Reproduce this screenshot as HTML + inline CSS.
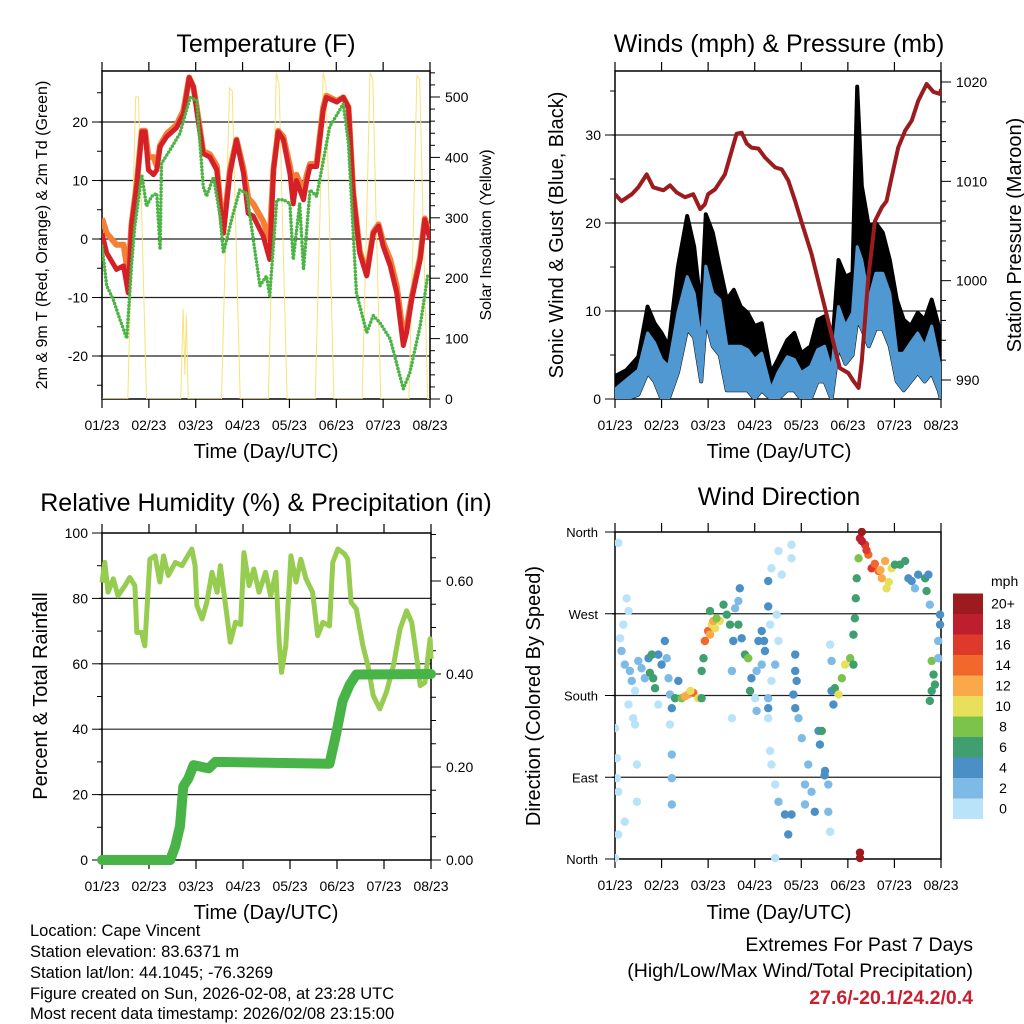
<!DOCTYPE html>
<html><head><meta charset="utf-8"><style>
html,body{margin:0;padding:0;background:#fff;width:1024px;height:1024px;overflow:hidden}
svg{display:block;font-family:"Liberation Sans",Arial,sans-serif}
</style></head><body>
<svg id="fig" width="1024" height="1024" viewBox="0 0 1024 1024" xmlns="http://www.w3.org/2000/svg">
<rect width="1024" height="1024" fill="#fff"/>
<text x="266" y="52" font-size="25" text-anchor="middle">Temperature (F)</text>
<text x="779" y="52" font-size="25" text-anchor="middle">Winds (mph) &amp; Pressure (mb)</text>
<text x="266" y="511" font-size="25" text-anchor="middle">Relative Humidity (%) &amp; Precipitation (in)</text>
<text x="779" y="505" font-size="25" text-anchor="middle">Wind Direction</text>
<text transform="translate(47,235) rotate(-90)" font-size="16" text-anchor="middle">2m &amp; 9m T (Red, Orange) &amp; 2m Td (Green)</text>
<text transform="translate(491,235) rotate(-90)" font-size="16" text-anchor="middle">Solar Insolation (Yellow)</text>
<text transform="translate(563,235) rotate(-90)" font-size="20" text-anchor="middle">Sonic Wind &amp; Gust (Blue, Black)</text>
<text transform="translate(1021,235) rotate(-90)" font-size="20" text-anchor="middle">Station Pressure (Maroon)</text>
<text transform="translate(47,696) rotate(-90)" font-size="20" text-anchor="middle">Percent &amp; Total Rainfall</text>
<text transform="translate(540,696) rotate(-90)" font-size="20" text-anchor="middle">Direction (Colored By Speed)</text>
<text x="266" y="458" font-size="20" text-anchor="middle">Time (Day/UTC)</text>
<text x="779" y="458" font-size="20" text-anchor="middle">Time (Day/UTC)</text>
<text x="266" y="919" font-size="20" text-anchor="middle">Time (Day/UTC)</text>
<text x="779" y="919" font-size="20" text-anchor="middle">Time (Day/UTC)</text>
<g font-size="16.5">
<text x="30" y="936">Location: Cape Vincent</text>
<text x="30" y="957">Station elevation: 83.6371 m</text>
<text x="30" y="978">Station lat/lon: 44.1045; -76.3269</text>
<text x="30" y="999">Figure created on Sun, 2026-02-08, at 23:28 UTC</text>
<text x="30" y="1019">Most recent data timestamp: 2026/02/08 23:15:00</text>
</g>
<g font-size="19.5" text-anchor="end">
<text x="973" y="951">Extremes For Past 7 Days</text>
<text x="973" y="977">(High/Low/Max Wind/Total Precipitation)</text>
<text x="973" y="1004" fill="#c8202f" font-weight="bold">27.6/-20.1/24.2/0.4</text>
</g>
</svg>
<script>
const NS='http://www.w3.org/2000/svg';
const fig=document.getElementById('fig');
const dayLabels=['01/23','02/23','03/23','04/23','05/23','06/23','07/23','08/23'];
// Temperature data
const tempDays=[0,0.1,0.31,0.46,0.56,0.63,0.74,0.85,0.92,0.99,1.10,1.17,1.24,1.38,1.59,1.74,1.86,1.95,2.02,2.16,2.30,2.45,2.55,2.59,2.73,2.87,3.02,3.12,3.23,3.44,3.58,3.66,3.76,3.87,4.01,4.08,4.15,4.30,4.37,4.44,4.58,4.72,4.79,5.01,5.15,5.26,5.36,5.50,5.65,5.79,5.90,6.00,6.15,6.29,6.43,6.50,6.61,6.79,6.89,7.0];
const temp2m=[1,-2.4,-5.2,-4.6,-9.2,2.2,9,18.3,18.3,11.8,11,11.8,15.8,17.5,19,21.4,27.6,26,22,14.6,14,11.8,3.3,1,11.2,16.9,11.2,4.4,3.9,0.5,-3.5,11.8,18.3,17,11.2,6,10,6.7,10,12.4,12.4,22,24.2,23.4,24.2,22.5,7.8,-2.4,-6.3,1,2.2,-1.2,-4.6,-9.2,-18.2,-16,-10.3,-3.5,3.3,-0.1];
const temp9m=[3.5,1,-1,-1,-6,2.5,9.5,18.5,18.5,14,14,12.5,16,18,19.5,22,27.6,26,22.5,15,14.5,12.5,4,1.5,11.8,17,12,7,6,3,0,12,18.5,17.5,12.5,9,11,8,11,12.8,12.8,22.5,24.5,23.6,24.2,22.5,8,-2,-6,1.2,2.5,-0.5,-3.5,-8,-16.5,-15,-10,-3,3.5,1];
const dewDays=[0,0.1,0.24,0.38,0.53,0.63,0.7,0.85,0.95,1.06,1.17,1.24,1.27,1.45,1.66,1.88,2.02,2.16,2.23,2.38,2.52,2.59,2.8,2.94,3.09,3.23,3.37,3.51,3.58,3.73,3.87,4.01,4.08,4.22,4.3,4.44,4.58,4.86,5.15,5.26,5.43,5.65,5.79,5.93,6.15,6.43,6.57,6.79,6.96];
const dewVals=[-1.2,-8,-10.3,-13.7,-17,-4.6,2.2,11,5.6,7.3,7.8,-1.8,12.9,15.2,18,24.2,23.7,9,7.3,10.6,3.9,-2.4,4.4,8.4,7.8,-0.1,-8,-6.3,-9.7,6.7,6.7,6.1,-3.5,6.1,-5.2,8.4,7.3,19.2,23.1,16.3,-9.2,-16,-13.1,-14.3,-17.1,-25.6,-22.8,-14.8,-5.8];
const solarDays=[0,0.55,0.65,0.72,0.78,0.85,0.95,1.68,1.73,1.77,1.8,1.84,2.55,2.65,2.72,2.78,2.85,2.95,3.55,3.65,3.72,3.78,3.85,3.95,4.55,4.65,4.72,4.78,4.85,4.95,5.55,5.65,5.72,5.78,5.85,5.95,6.55,6.65,6.72,6.78,6.85,6.95,7.0];
const solarVals=[0,0,300,500,500,300,0,0,150,40,140,0,0,300,515,510,300,0,0,300,540,520,300,0,0,300,540,520,300,0,0,300,540,530,300,0,0,300,535,530,300,0,0];
// Wind data
const windDays=[0,0.25,0.5,0.7,0.85,1.0,1.15,1.35,1.55,1.7,1.85,1.95,2.1,2.25,2.4,2.55,2.7,2.85,3.0,3.15,3.35,3.5,3.7,3.85,4.0,4.2,4.35,4.5,4.65,4.8,4.95,5.1,5.2,5.3,5.45,5.6,5.75,5.9,6.05,6.2,6.35,6.5,6.65,6.8,6.95,7.0];
const windLo=[0,0,0.5,3,2,0,0,3,8,7,2,9,6,5,1,1,1,1,0,1,0,0,1,1,0,0,2,2,0,6,4,5,9,8,6,8,8,6,2,1,2,3,2,3,1,0];
const windHi=[1.1,2.2,3.3,7.5,6.4,4.5,3.7,9.8,13.9,12,6.4,15.1,12,11.3,6,6,6,5.6,4.5,5.2,1.1,3,4.8,4.5,3,3.7,5.6,6,3.3,10.5,8.3,9.8,17.3,15.8,11.3,14.3,14.3,12,5.2,5.2,6.4,7.5,6,8.3,4.5,3.3];
const gustHi=[2.6,3.3,4.8,10.5,8.6,7.5,6,15,20.8,17.3,10.1,21,18.9,15,11.3,12.4,10.5,9.8,8.3,8.6,3,4.5,6.7,7.5,5.2,6,9,9.4,5.2,15.8,13.9,14.3,35.5,24.2,19.6,20,18.9,15.8,11.3,9,8.3,9.8,9,11.3,8.3,5.2];
const presDays=[0,0.14,0.36,0.5,0.68,0.82,1.04,1.18,1.32,1.5,1.68,1.83,1.93,2.0,2.15,2.36,2.61,2.72,2.83,2.93,3.08,3.22,3.44,3.58,3.72,3.87,4.04,4.22,4.4,4.58,4.72,4.83,5.01,5.12,5.23,5.3,5.44,5.58,5.73,5.83,5.94,6.08,6.23,6.37,6.51,6.69,6.84,6.98,7.0];
const presVals=[1008.7,1008.0,1008.7,1009.4,1010.7,1009.4,1009.1,1009.6,1008.9,1008.4,1008.7,1007.2,1007.7,1008.7,1009.2,1010.7,1014.8,1014.9,1013.8,1013.4,1013.3,1012.4,1011.4,1011.2,1010.1,1008.0,1005.4,1002.7,999.3,995.9,993.2,991.2,990.7,989.9,989.2,991.9,1000.3,1006.0,1007.4,1008.0,1010.4,1013.4,1015.1,1016.1,1018.1,1019.8,1019.0,1018.8,1019.3];
// Humidity / precipitation
const rhDays=[0,0.06,0.13,0.24,0.34,0.49,0.59,0.7,0.74,0.84,0.91,1.02,1.13,1.23,1.31,1.41,1.56,1.7,1.91,1.98,2.02,2.13,2.23,2.34,2.45,2.52,2.63,2.73,2.84,2.95,3.02,3.13,3.23,3.34,3.48,3.59,3.7,3.77,3.82,3.91,4.02,4.13,4.23,4.34,4.48,4.59,4.7,4.84,4.91,5.02,5.16,5.23,5.3,5.41,5.55,5.66,5.77,5.91,6.05,6.2,6.34,6.48,6.59,6.7,6.77,6.87,6.98,7.0];
const rhVals=[84.9,91,81.9,86,80.8,83.9,86.4,83.9,69.6,69.6,65.5,92,93,85,93,87,91,90,95.1,90,77.8,73.7,78.8,88,81.9,90,77.8,66.6,72.7,72,94,83.9,89,81.9,88,80.8,88,66.6,57.4,65.5,93,85,92,86,81.9,68.6,72.7,71.6,91,95.1,93.6,92,78.8,76.8,65.5,59.4,50.3,46.2,51.3,59.4,70.6,76.2,72.7,61.5,53.3,54.3,67.6,61.5];
const precipDays=[0,1.45,1.56,1.66,1.73,1.84,1.95,2.27,2.41,4.84,4.98,5.12,5.27,5.41,7.0];
const precipVals=[0,0,0.03,0.073,0.158,0.176,0.204,0.197,0.211,0.207,0.271,0.342,0.377,0.399,0.4];
// Wind direction
const dirDays=[0.07,0,0.04,0.04,0.07,0.07,0,0.21,0.25,0.29,0.18,0.11,0.14,0.21,0.32,0.36,0.43,0.29,0.39,0.43,0.47,0.47,0.5,0.57,0.64,0.72,0.79,0.82,0.86,0.93,1.0,1.07,1.11,0.93,1.15,1.18,1.22,1.18,1.22,1.22,1.22,1.29,1.43,1.57,1.68,1.79,1.86,1.36,1.86,1.9,1.93,2.0,2.08,2.04,2.15,2.25,2.33,2.4,2.47,2.58,2.65,2.68,2.54,2.65,2.72,2.79,2.86,2.93,2.9,2.51,2.51,3.08,3.15,3.22,3.15,3.04,3.01,3.04,3.29,3.36,3.29,3.33,3.51,3.58,3.47,3.51,3.44,3.36,3.29,3.29,3.29,3.33,3.36,3.44,3.51,3.65,3.72,3.79,3.44,3.79,3.79,3.87,3.87,3.9,3.83,3.87,3.94,4.01,4.08,4.15,4.08,4.22,4.29,4.37,4.44,4.4,4.51,4.58,4.58,4.62,4.62,4.65,4.65,4.72,4.8,4.87,4.94,5.05,5.12,4.69,5.12,5.15,5.17,5.19,5.23,5.26,5.3,5.37,5.44,5.51,5.66,5.73,5.83,5.8,5.94,6.01,6.12,6.23,6.3,6.37,6.44,6.51,6.66,6.73,6.69,5.26,5.26,6.76,6.8,6.84,6.87,6.8,6.76,6.98,6.98,6.94,6.94,2.04,2.11,2.18,5.4,5.58,5.7,5.88,5.3,1.5,1.62,0.75,3.2,4.5];
const dirDeg=[348,144,111,89,74,27,1,41,287,273,258,243,229,214,207,196,185,170,155,148,104,63,218,210,199,221,225,199,188,225,214,240,221,170,199,181,166,148,115,89,60,177,177,181,183,177,177,196,207,221,240,251,258,273,254,262,280,269,258,276,284,298,240,258,243,225,221,199,185,207,155,240,251,229,214,207,177,163,306,320,278,258,339,313,269,240,214,196,177,166,155,119,104,82,63,49,27,49,1,346,331,225,207,196,181,166,155,133,82,104,60,74,52,141,141,126,97,82,52,30,236,218,185,188,181,199,214,221,214,170,247,265,287,309,331,353,360,346,335,320,317,309,298,328,320,324,324,328,309,306,298,313,309,313,295,7,1,280,218,203,192,185,174,269,258,240,221,247,262,265,340,325,318,305,350,179,185,205,240,92];
const dirSpd=[0,0,0,1,0,0,0,0,0,0,1,1,2,2,2,2,1,1,1,0,0,0,3,3,3,5,6,6,6,5,4,4,3,1,3,3,4,1,3,3,3,6,9,12,14,10,7,4,6,6,15,14,11,7,11,10,6,7,6,3,3,4,4,6,5,7,8,5,6,3,0,4,4,4,3,2,1,2,4,0,4,1,0,0,1,0,2,1,3,4,1,1,1,1,3,4,4,4,0,0,0,5,4,4,4,4,2,3,2,2,2,2,5,4,6,4,4,3,2,1,1,2,4,7,10,9,11,8,7,4,6,6,6,7,8,18,20,17,15,17,14,13,11,12,11,6,7,6,4,5,2,5,6,4,6,20,20,2,8,6,6,6,6,4,4,2,3,13,12,9,16,15,12,10,19,13,11,6,5,4];
const cbLabels=['0','2','4','6','8','10','12','14','16','18','20+'];
const cbColors=['#b8e3f8','#7dbbe6','#4a8fc6','#3f9f6e','#7bc34a','#e8e05a','#f9a94a','#f2672b','#dd3a2c','#bf1e2e','#9b1b1e'];

function mk(tag,attrs,parent){const e=document.createElementNS(NS,tag);for(const k in attrs)e.setAttribute(k,attrs[k]);(parent||fig).appendChild(e);return e;}
function linScale(d0,d1,r0,r1){return v=>r0+(v-d0)*(r1-r0)/(d1-d0);}
function pathFrom(xs,ys,sx,sy){return xs.map((x,i)=>(i?'L':'M')+sx(x).toFixed(1)+','+sy(ys[i]).toFixed(1)).join('');}

function frame(P,name){
  const g=mk('g',{});
  
  
  P.grid.forEach(v=>{const l=mk('line',{x1:P.x0-3,x2:P.x1,y1:P.yL(v),y2:P.yL(v),stroke:'#222','stroke-width':1.2},g);
    
    });
  const b=mk('rect',{x:P.x0,y:P.y0,width:P.x1-P.x0,height:P.y1-P.y0,fill:'none',stroke:'#000','stroke-width':1.5},g);
  
  
  for(let d=0;d<=7;d++){const x=P.sx(d);
    mk('line',{x1:x,x2:x,y1:P.y1,y2:P.y1+9,stroke:'#000','stroke-width':1.2},g);
    mk('line',{x1:x,x2:x,y1:P.y0,y2:P.y0-9,stroke:'#000','stroke-width':1.2},g);
    const t=mk('text',{x:x,y:P.y1+31,'font-size':14,'text-anchor':'middle'},g);t.textContent=dayLabels[d];
    
    }
  for(let v=P.lMin;v<=P.lMax+1e-9;v+=P.lMinor){const y=P.yL(v);if(y<P.y0-0.5||y>P.y1+0.5)continue;
    const major=Math.abs(Math.round(v/P.lMajor)*P.lMajor-v)<1e-6;
    mk('line',{x1:P.x0,x2:P.x0-(major?10:5),y1:y,y2:y,stroke:'#000','stroke-width':1},g);
    if(major&&P.lLabels){const t=mk('text',{x:P.x0-14,y:y+5,'font-size':14,'text-anchor':'end'},g);t.textContent=P.lFmt(v);
      
      }}
  if(P.yR){for(let v=P.rMin;v<=P.rMax+1e-9;v+=P.rMinor){const y=P.yR(v);if(y<P.y0-0.5||y>P.y1+0.5)continue;
    const major=Math.abs(Math.round(v/P.rMajor)*P.rMajor-v)<1e-6;
    mk('line',{x1:P.x1,x2:P.x1+(major?10:5),y1:y,y2:y,stroke:'#000','stroke-width':1},g);
    if(major){const t=mk('text',{x:P.x1+15,y:y+5,'font-size':14},g);t.textContent=P.rFmt(v);
      
      }}}
}
function clip(P,id){const c=mk('clipPath',{id:id});mk('rect',{x:P.x0,y:P.y0,width:P.x1-P.x0,height:P.y1-P.y0},c);return 'url(#'+id+')';}

// Panel 1: temperature
const P1={x0:102,x1:430,y0:71,y1:399};
P1.sx=linScale(0,7,P1.x0,P1.x1);P1.yL=linScale(0,10,239,180.5);P1.yR=linScale(0,500,399,97);
Object.assign(P1,{grid:[-20,-10,0,10,20],lMin:-25,lMax:30,lMinor:5,lMajor:10,lLabels:true,lFmt:v=>String(v),rMin:0,rMax:540,rMinor:20,rMajor:100,rFmt:v=>String(v)});
frame(P1,'temperature');
const c1=clip(P1,'c1');
const solar=mk('path',{d:pathFrom(solarDays,solarVals,P1.sx,P1.yR),fill:'none',stroke:'#f7e27a','stroke-width':1,'clip-path':c1});


const t9=mk('path',{d:pathFrom(tempDays,temp9m,P1.sx,P1.yL),fill:'none',stroke:'#f47f35','stroke-width':6,'stroke-linejoin':'round','clip-path':c1});


const t2=mk('path',{d:pathFrom(tempDays,temp2m,P1.sx,P1.yL),fill:'none',stroke:'#d42027','stroke-width':5,'stroke-linejoin':'round','clip-path':c1});


const dw=mk('path',{d:pathFrom(dewDays,dewVals,P1.sx,P1.yL),fill:'none',stroke:'#4bb444','stroke-width':3.5,'stroke-linecap':'round','stroke-dasharray':'0 3.5','clip-path':c1});



// Panel 2: winds
const P2={x0:615,x1:941,y0:71,y1:399};
P2.sx=linScale(0,7,P2.x0,P2.x1);P2.yL=linScale(0,10,399,311);P2.yR=linScale(990,1020,380,82);
Object.assign(P2,{grid:[10,20,30],lMin:0,lMax:37,lMinor:5,lMajor:10,lLabels:true,lFmt:v=>String(v),rMin:988,rMax:1021,rMinor:2,rMajor:10,rFmt:v=>String(v)});
frame(P2,'winds');
const c2=clip(P2,'c2');
function band(xs,lo,hi,sx,sy){let d='M'+xs.map((x,i)=>sx(x).toFixed(1)+','+sy(hi[i]).toFixed(1)).join('L');
  for(let i=xs.length-1;i>=0;i--)d+='L'+sx(xs[i]).toFixed(1)+','+sy(lo[i]).toFixed(1);return d+'Z';}
const gust=mk('path',{d:band(windDays,windLo,gustHi,P2.sx,P2.yL),fill:'#000',stroke:'#000','stroke-width':4,'stroke-linejoin':'round','clip-path':c2});


const wind=mk('path',{d:band(windDays,windLo,windHi,P2.sx,P2.yL),fill:'#4f98d2',stroke:'#4f98d2','stroke-width':3,'stroke-linejoin':'round','clip-path':c2});


const pres=mk('path',{d:pathFrom(presDays,presVals,P2.sx,P2.yR),fill:'none',stroke:'#9b1b1e','stroke-width':4,'stroke-linejoin':'round','clip-path':c2});



// Panel 3: humidity
const P3={x0:102,x1:431,y0:533,y1:860};
P3.sx=linScale(0,7,P3.x0,P3.x1);P3.yL=linScale(0,100,860,533);P3.yR=linScale(0,0.2,860,767);
Object.assign(P3,{grid:[20,40,60,80],lMin:0,lMax:100,lMinor:10,lMajor:20,lLabels:true,lFmt:v=>String(Math.round(v)),rMin:0,rMax:0.7,rMinor:0.05,rMajor:0.2,rFmt:v=>v.toFixed(2)});
frame(P3,'humidity');
const rh=mk('path',{d:pathFrom(rhDays,rhVals,P3.sx,P3.yL),fill:'none',stroke:'#96cc4f','stroke-width':5,'stroke-linejoin':'round'});


const pr=mk('path',{d:pathFrom(precipDays,precipVals,P3.sx,P3.yR),fill:'none',stroke:'#48b447','stroke-width':10,'stroke-linejoin':'round','stroke-linecap':'round'});



// Panel 4: direction
const P4={x0:615,x1:941,y0:532,y1:859};
P4.sx=linScale(0,7,P4.x0,P4.x1);P4.yL=linScale(0,360,859,532);
Object.assign(P4,{grid:[90,180,270],lMin:0,lMax:360,lMinor:90,lMajor:90,lLabels:false});
frame(P4,'direction');
const dirNames=['North','East','South','West','North'];
dirNames.forEach((n,i)=>{const t=mk('text',{x:P4.x0-17,y:P4.yL(i*90)+5,'font-size':13,'text-anchor':'end'});t.textContent=n;
  
  });
const dg=mk('g',{'clip-path':clip({x0:P4.x0,x1:P4.x1+4,y0:P4.y0-4,y1:P4.y1+4},'c4')});


dirDays.forEach((d,i)=>{const k=Math.min(10,Math.floor(dirSpd[i]/2));
  const c=mk('circle',{cx:P4.sx(d),cy:P4.yL(dirDeg[i]),r:4.2,fill:cbColors[k]},dg);
  
  });
// colorbar
const cb=mk('g',{});


const ut=mk('text',{x:991,y:586,'font-size':14},cb);ut.textContent='mph';


cbColors.forEach((c,i)=>{const y=819-(i+1)*20.5;
  const r=mk('rect',{x:953,y:y,width:30,height:20.5,fill:c},cb);
  
  
  const t=mk('text',{x:1003,y:y+15,'font-size':14,'text-anchor':'middle'},cb);t.textContent=cbLabels[i];
  
  });
</script>
</body></html>
